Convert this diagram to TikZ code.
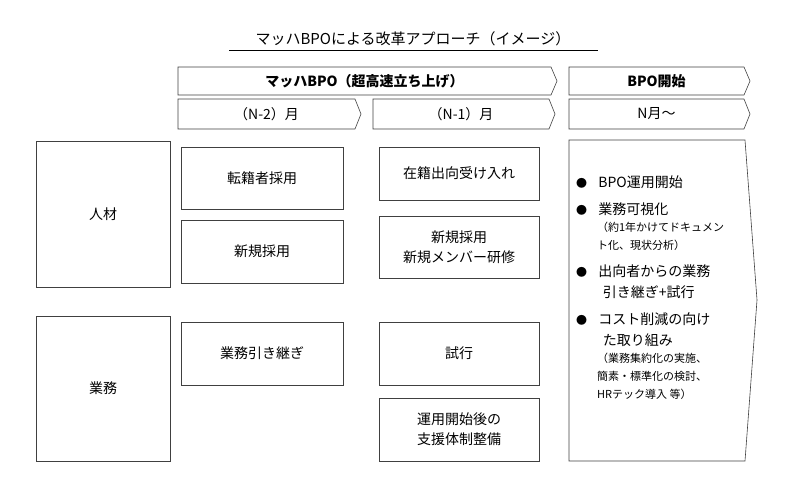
\documentclass[tikz,border=0pt]{standalone}
\usepackage{fontspec}
\setmainfont{Noto Sans CJK JP}
\newcommand{\smf}{\fontsize{11}{13}\selectfont}
\newcommand{\nmf}{\fontsize{14}{19}\selectfont}
\begin{document}
\begin{tikzpicture}[x=1pt,y=-1pt,
  box/.style={draw=black!75,line width=0.6pt,fill=white},
  lbl/.style={font=\fontsize{14}{20}\selectfont,align=center}]
\useasboundingbox (0,0) rectangle (800,491);
\node[font=\fontsize{15}{18}\selectfont] (title) at (413,39) {マッハBPOによる改革アプローチ（イメージ）};
\draw[line width=0.6pt] (229,50) -- (598,50);
\newcommand{\chev}[6]{%
 \draw[box] (#2,#3) -- (#4-6,#3) -- (#4,{(#3+#5)/2}) -- (#4-6,#5) -- (#2,#5) -- cycle;
 \node[lbl] (#1) at ({(#2+#4)/2-3},{(#3+#5)/2}) {#6};}
\chev{h1}{178}{67}{557}{95}{\bfseries マッハBPO（超高速立ち上げ）}
\chev{h2}{569}{67}{750}{95}{\bfseries BPO開始}
\chev{m1}{178}{99}{361}{129}{（N-2）月}
\chev{m2}{373}{99}{555}{129}{（N-1）月}
\chev{m3}{569}{99}{750}{129}{N月～}
\newcommand{\bx}[6]{\draw[box] (#2,#3) rectangle (#4,#5);
 \node[lbl] (#1) at ({(#2+#4)/2},{(#3+#5)/2}) {#6};}
\bx{a}{36}{141}{170}{287}{人材}
\bx{b}{36}{316}{170}{461}{業務}
\bx{c1}{181}{147}{343}{209}{転籍者採用}
\bx{c2}{181}{220}{343}{283}{新規採用}
\bx{c3}{181}{322}{343}{385}{業務引き継ぎ}
\bx{d1}{379}{147}{539}{200}{在籍出向受け入れ}
\bx{d2}{379}{216}{539}{278}{新規採用\\新規メンバー研修}
\bx{d3}{379}{322}{539}{385}{試行}
\bx{d4}{379}{398}{539}{461}{運用開始後の\\支援体制整備}
\draw[box] (569,140) -- (745,140) -- (757,300) -- (745,461) -- (569,461) -- cycle;
\node[anchor=north west,align=left,font=\nmf,inner sep=0pt] (r) at (576,176) {%
{\fontsize{11}{13}\selectfont●}\hspace{0.8em}BPO運用開始\\[8pt]
{\fontsize{11}{13}\selectfont●}\hspace{0.8em}業務可視化\\[-2pt]
\smf\hspace{1.9em}（約1年かけてドキュメン\\[-1pt]
\smf\hspace{1.9em}ト化、現状分析）\\[8pt]
\nmf{\fontsize{11}{13}\selectfont●}\hspace{0.8em}出向者からの業務\\[2pt]
\nmf\hspace{1.9em}引き継ぎ+試行\\[8pt]
\nmf{\fontsize{11}{13}\selectfont●}\hspace{0.8em}コスト削減の向け\\[2pt]
\nmf\hspace{1.9em}た取り組み\\[-2pt]
\smf\hspace{1.9em}（業務集約化の実施、\\[-1pt]
\smf\hspace{1.9em}簡素・標準化の検討、\\[-1pt]
\smf\hspace{1.9em}HRテック導入 等）};
\end{tikzpicture}
\end{document}
